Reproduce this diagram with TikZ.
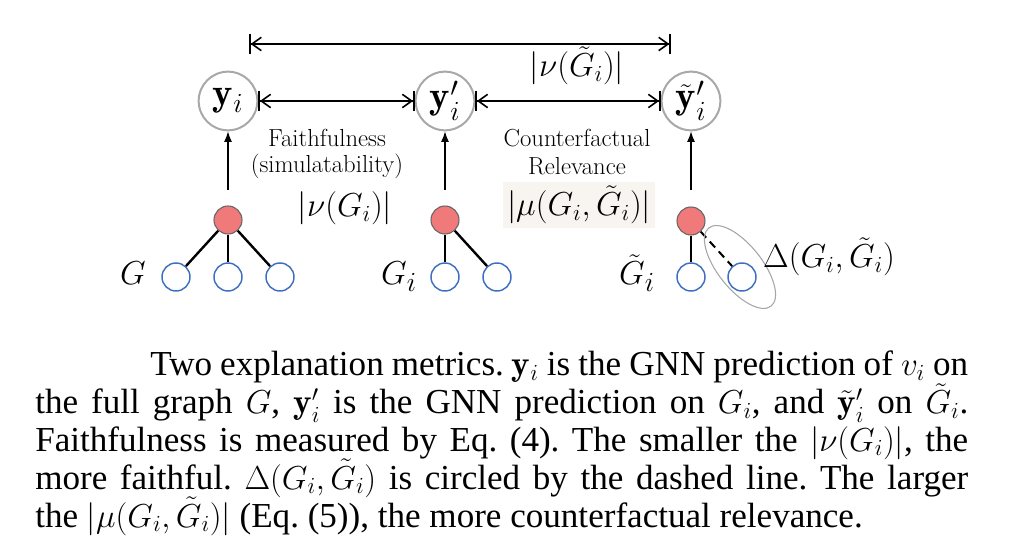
\documentclass[tikz,border=0pt]{standalone}
\usepackage{amsmath}
\usepackage{fontspec}
\newfontfamily\capfont{Liberation Serif}
\usetikzlibrary{arrows.meta}
\definecolor{rednode}{HTML}{F07A7A}
\definecolor{bluenode}{HTML}{3F6FC0}
\definecolor{ringgray}{HTML}{A8A8A8}
\definecolor{mathbg}{HTML}{F8F4EF}
\begin{document}
\begin{tikzpicture}[x=0.75pt,y=-0.75pt,
 pred/.style={circle, draw=ringgray, line width=1.5pt, minimum size=44pt, inner sep=0pt, font=\fontsize{29}{32}\selectfont},
 hub/.style={circle, draw=gray!80!black, fill=rednode, minimum size=21pt, inner sep=0pt, line width=0.8pt},
 leaf/.style={circle, draw=bluenode, fill=white, minimum size=21pt, inner sep=0pt, line width=1.1pt},
 edge/.style={line width=1.8pt},
 dist/.style={line width=1.2pt, {Bar[width=15pt]Straight Barb[length=7pt,width=10pt]}-{Straight Barb[length=7pt,width=10pt]Bar[width=15pt]}},
 up/.style={line width=0.9pt, -{Latex[length=8pt,width=6pt]}},
 lbl/.style={font=\fontsize{18.5}{22}\selectfont, inner sep=0pt},
 mlbl/.style={font=\fontsize{23.5}{27}\selectfont, inner sep=0pt},
 glbl/.style={font=\fontsize{28}{32}\selectfont, inner sep=0pt},
 capline/.style={font=\capfont\fontsize{26.3}{28}\selectfont\frenchspacing, inner sep=0pt, anchor=base west}
]
\useasboundingbox (0,0) rectangle (1013,548);

% prediction nodes
\node[pred] (y1) at (228,101) {$\mathbf{y}_i$};
\node[pred] (y2) at (445,101) {$\mathbf{y}'_i$};
\node[pred] (y3) at (691,101) {$\tilde{\mathbf{y}}'_i$};

% graphs
\node[hub] (c1) at (228,220) {};
\node[leaf] (l11) at (176,277) {};
\node[leaf] (l12) at (228,277) {};
\node[leaf] (l13) at (280,277) {};
\node[hub] (c2) at (445,220) {};
\node[leaf] (l21) at (445,277) {};
\node[leaf] (l22) at (497,277) {};
\node[hub] (c3) at (691,221) {};
\node[leaf] (l31) at (691,277) {};
\node[leaf] (l32) at (742,277) {};

\draw[edge] (c1) -- (l11);
\draw[edge] (c1) -- (l12);
\draw[edge] (c1) -- (l13);
\draw[edge] (c2) -- (l21);
\draw[edge] (c2) -- (l22);
\draw[edge] (c3) -- (l31);
\draw[line width=1.5pt, dash pattern=on 6pt off 4pt] (c3) -- (l32);

\coordinate (ec) at (740,267);
\draw[gray!70, line width=0.8pt, rotate around={-51.5:(ec)}] (ec) ellipse [x radius=37.5pt, y radius=16.5pt];

% vertical arrows
\coordinate (a1) at (228,190);
\coordinate (a2) at (445,190);
\coordinate (a3) at (691,190);
\draw[up] (a1) -- (y1.south);
\draw[up] (a2) -- (y2.south);
\draw[up] (a3) -- (y3.south);

% distance arrows
\draw[dist] (y1.east) -- (y2.west);
\draw[dist] (y2.east) -- (y3.west);
\coordinate (t1) at (249,44);
\coordinate (t2) at (671,44);
\draw[dist] (t1) -- (t2);

% labels
\node[mlbl] (nut) at (577,66) {$|\nu(\tilde{G}_i)|$};
\node[lbl] (f1) at (327,138) {Faithfulness};
\node[lbl] (f2) at (327,166) {(simulatability)};
\node[mlbl] (nu) at (345,208) {$|\nu(G_i)|$};
\node[lbl] (ct1) at (577,138) {Counterfactual};
\node[lbl] (ct2) at (577,166) {Relevance};
\node[mlbl, fill=mathbg, inner sep=3pt] (mu) at (579,205) {$|\mu(G_i,\tilde{G}_i)|$};
\node[mlbl] (delta) at (829,257) {$\Delta(G_i,\tilde{G}_i)$};
\node[glbl, anchor=base] (gl) at (133,285) {$G$};
\node[glbl, anchor=base] (gil) at (399,285) {$G_i$};
\node[glbl, anchor=base] (gtl) at (637,285) {$\tilde{G}_i$};

% caption
\node[capline] (cap1) at (150,376) {\hbox to 613.5pt{Two explanation metrics. $\mathbf{y}_i$ is the GNN prediction of $v_i$ on}};
\node[capline] (cap2) at (35,414) {\hbox to 699.75pt{the full graph $G$, $\mathbf{y}'_i$ is the GNN prediction on $G_i$, and $\tilde{\mathbf{y}}'_i$ on $\tilde{G}_i$.}};
\node[capline] (cap3) at (35,451) {\hbox to 699.75pt{Faithfulness is measured by Eq. (4). The smaller the $|\nu(G_i)|$, the}};
\node[capline] (cap4) at (35,489) {\hbox to 699.75pt{more faithful. $\Delta(G_i,\tilde{G}_i)$ is circled by the dashed line. The larger}};
\node[capline] (cap5) at (35,527) {the $|\mu(G_i,\tilde{G}_i)|$ (Eq. (5)), the more counterfactual relevance.};
\end{tikzpicture}
\end{document}
